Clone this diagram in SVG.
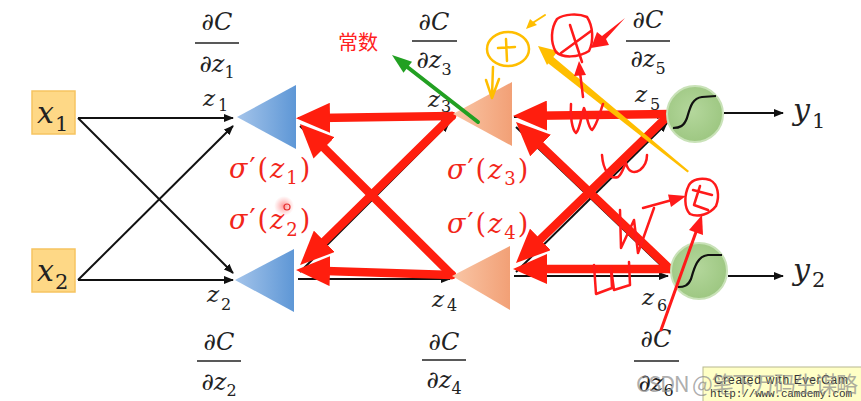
<svg xmlns="http://www.w3.org/2000/svg" width="861" height="401" viewBox="0 0 861 401">
<defs>
<style>
.m{font-family:"DejaVu Serif","Liberation Serif",serif;font-style:italic;fill:#222}
.big{font-size:30px}
.z{font-size:23px}
.fr{font-size:24px}
.s{font-style:normal;font-size:16px}
.sb{font-style:normal;font-size:21px}
.sig{font-family:"DejaVu Serif","Liberation Serif",serif;font-style:italic;font-size:27px;fill:#f2261a;letter-spacing:2px}
.up{font-style:normal}
.ss{font-style:normal;font-size:18px}
.fl{stroke:#222;stroke-width:1.6}
.blk{stroke:#111;stroke-width:2;fill:none;marker-end:url(#ab)}
.red{stroke:#ff1e0e;stroke-width:8.5;fill:none;stroke-linecap:round;marker-end:url(#rh)}
.hw{stroke:#ff1a1a;stroke-width:2.5;fill:none;stroke-linecap:round;stroke-linejoin:round}
.yl{stroke:#ffbe00;stroke-width:2.5;fill:none;stroke-linecap:round;stroke-linejoin:round}
.inbox{fill:#fed886;stroke:#f6c460;stroke-width:1.5}
.circ{fill:url(#gg);stroke:#c9e2b8;stroke-width:2}
.sigm{fill:none;stroke:#111;stroke-width:2.2}
</style>
<linearGradient id="gb" x1="0" y1="0" x2="1" y2="0">
<stop offset="0" stop-color="#a4c4ea"/><stop offset="1" stop-color="#5e97d6"/>
</linearGradient>
<linearGradient id="go" x1="0" y1="0" x2="1" y2="0">
<stop offset="0" stop-color="#f9c6a6"/><stop offset="1" stop-color="#f2a076"/>
</linearGradient>
<radialGradient id="gg" cx="0.45" cy="0.45" r="0.6">
<stop offset="0" stop-color="#b4d79c"/><stop offset="1" stop-color="#9cc680"/>
</radialGradient>
<radialGradient id="pk" cx="0.5" cy="0.5" r="0.5">
<stop offset="0" stop-color="#ff7070" stop-opacity="0.75"/><stop offset="1" stop-color="#ff9090" stop-opacity="0"/>
</radialGradient>
<marker id="ab" markerUnits="userSpaceOnUse" viewBox="0 0 10 8" markerWidth="10" markerHeight="8" refX="9" refY="4" orient="auto"><path d="M0,0 L10,4 L0,8 z" fill="#111"/></marker>
<marker id="rh" markerUnits="userSpaceOnUse" viewBox="0 0 34 30" markerWidth="34" markerHeight="30" refX="12" refY="15" orient="auto"><path d="M0,0 L34,15 L0,30 z" fill="#ff1e0e"/></marker>
</defs>
<rect width="861" height="401" fill="#fff"/>

<g id="connectors">
<path class="blk" d="M78,118 L233,118"/>
<path class="blk" d="M78,118 L233,273"/>
<path class="blk" d="M78,280 L233,280"/>
<path class="blk" d="M78,280 L233,126"/>
<path class="blk" d="M298,118 L450,117"/>
<path class="blk" d="M298,279 L450,279"/>
<path class="blk" d="M300,126 L449,272"/>
<path class="blk" d="M300,272 L449,123"/>
<path class="blk" d="M514,117 L666,115"/>
<path class="blk" d="M514,276 L668,276"/>
<path class="blk" d="M516,127 L668,272"/>
<path class="blk" d="M516,272 L667,123"/>
<path class="blk" d="M724,113 L783,113"/>
<path class="blk" d="M728,276 L783,276"/>
<path class="red" d="M452,116 L318,118"/>
<path class="red" d="M452,275 L318,270.7"/>
<path class="red" d="M452,116 L315.8,249.7"/>
<path class="red" d="M452,275 L315.6,139.5"/>
<path class="red" d="M670,114 L535,115.7"/>
<path class="red" d="M670,269 L535,269"/>
<path class="red" d="M670,114 L531.8,247.7"/>
<path class="red" d="M670,269 L531.9,137.2"/>
</g>

<g id="x1">
<rect class="inbox" x="32" y="91" width="43" height="43"/>
<text class="m big" x="37" y="123">x</text><text class="m sb" x="55" y="131">1</text>
</g>
<g id="x2">
<rect class="inbox" x="32" y="249" width="43" height="43"/>
<text class="m big" x="37" y="281">x</text><text class="m sb" x="55" y="289">2</text>
</g>

<g id="n1">
<polygon points="237,117 296,85 296,149" fill="url(#gb)"/>
<text class="m z" x="203" y="106">z</text><text class="m s" x="218" y="111">1</text>
<text class="m fr" x="217" y="30" text-anchor="middle">∂C</text>
<line class="fl" x1="195" y1="43" x2="239" y2="43"/>
<text class="m fr" x="217" y="72" text-anchor="middle">∂z<tspan class="s" dy="6">1</tspan></text>
</g>
<g id="n2">
<polygon points="235,280 294,249 294,312" fill="url(#gb)"/>
<text class="m z" x="207" y="302">z</text><text class="m s" x="221" y="310">2</text>
<text class="m fr" x="219" y="350" text-anchor="middle">∂C</text>
<line class="fl" x1="197" y1="361" x2="241" y2="361"/>
<text class="m fr" x="219" y="390" text-anchor="middle">∂z<tspan class="s" dy="6">2</tspan></text>
</g>
<g id="n3">
<polygon points="453,114 512,82 512,146" fill="url(#go)"/>
<text class="m z" x="428" y="107">z</text><text class="m s" x="441" y="112">3</text>
<text class="m fr" x="434" y="30" text-anchor="middle">∂C</text>
<line class="fl" x1="412" y1="41" x2="457" y2="41"/>
<text class="m fr" x="434" y="68" text-anchor="middle">∂z<tspan class="s" dy="7">3</tspan></text>
</g>
<g id="n4">
<polygon points="452,276 510,246 510,310" fill="url(#go)"/>
<text class="m z" x="432" y="307">z</text><text class="m s" x="447" y="311">4</text>
<text class="m fr" x="444" y="350" text-anchor="middle">∂C</text>
<line class="fl" x1="422" y1="360" x2="466" y2="360"/>
<text class="m fr" x="444" y="388" text-anchor="middle">∂z<tspan class="s" dy="6">4</tspan></text>
</g>
<g id="n5">
<circle class="circ" cx="695" cy="114" r="28"/>
<path class="sigm" d="M673,128 C680,128 684,126 687,118 C690,108 692,98 702,97 L716,96"/>
<text class="m z" x="635" y="102">z</text><text class="m s" x="650" y="110">5</text>
<text class="m fr" x="648" y="28" text-anchor="middle">∂C</text>
<line class="fl" x1="626" y1="41" x2="670" y2="41"/>
<text class="m fr" x="648" y="67" text-anchor="middle">∂z<tspan class="s" dy="7">5</tspan></text>
</g>
<g id="n6">
<circle class="circ" cx="699" cy="271" r="28"/>
<path class="sigm" d="M678,287 C684,287 688,286 691,279 C694,269 697,256 708,255 L722,255"/>
<text class="m z" x="642" y="305">z</text><text class="m s" x="657" y="311">6</text>
<text class="m fr" x="656" y="347" text-anchor="middle">∂C</text>
<line class="fl" x1="634" y1="361" x2="679" y2="361"/>
<text class="m fr" x="656" y="391" text-anchor="middle">∂z<tspan class="s" dy="5">6</tspan></text>
</g>
<g id="y1">
<text class="m big" x="793" y="120">y</text><text class="m sb" x="812" y="128">1</text>
</g>
<g id="y2">
<text class="m big" x="793" y="280">y</text><text class="m sb" x="812" y="287">2</text>
</g>

<g id="sigma-labels">
<text class="sig" x="229" y="178">σ<tspan class="up">′(</tspan>z<tspan class="ss" dy="6">1</tspan><tspan class="up" dy="-6">)</tspan></text>
<text class="sig" x="229" y="229">σ<tspan class="up">′(</tspan>z<tspan class="ss" dy="7">2</tspan><tspan class="up" dy="-7">)</tspan></text>
<text class="sig" x="447" y="179">σ<tspan class="up">′(</tspan>z<tspan class="ss" dy="6">3</tspan><tspan class="up" dy="-6">)</tspan></text>
<text class="sig" x="447" y="233">σ<tspan class="up">′(</tspan>z<tspan class="ss" dy="6">4</tspan><tspan class="up" dy="-6">)</tspan></text>
<circle cx="284" cy="206" r="10" fill="url(#pk)"/>
<circle cx="287" cy="207" r="3" fill="none" stroke="#e53030" stroke-width="1.2"/>
</g>

<g id="annotations">
<text x="338" y="50" font-family="'Noto Sans CJK SC',sans-serif" font-size="20" fill="#ff2020">常数</text>
<path d="M478,122 L406,66" stroke="#22a022" stroke-width="4" stroke-linecap="round"/>
<polygon points="392,55 412,61.8 403.5,72.8" fill="#22a022"/>
<ellipse class="yl" cx="508" cy="49" rx="21" ry="17"/>
<path class="yl" d="M498,48 L515,47 M506,39 L507,61"/>
<path class="yl" d="M493,67 L492,96 M486,80 L492,98 L499,79"/>
<path d="M545,15 L531,24" stroke="#ffbe00" stroke-width="2" stroke-linecap="round"/>
<polygon points="526,29 530,19 537,25" fill="#ffbe00"/>
<polygon points="551.5,55.5 689,171 687.5,172.5 546.5,62" fill="#ffbe00"/>
<polygon points="538,46 558,51 547,65" fill="#ffbe00"/>
<path class="hw" d="M557,19 C551,28 550,42 556,52 C562,58 578,58 589,51 C594,41 593,26 587,17 C578,13 564,14 557,19 Z"/>
<path class="hw" d="M570,25 L582,62 M591,31 L561,53"/>
<polygon points="625,18 606,39 609,45 591,48 597,32 602,36" fill="#ff1a1a"/>
<path d="M583,97 L580,72" stroke="#ff1a1a" stroke-width="2.5" stroke-linecap="round"/>
<polygon points="579,61 574,76 586,75" fill="#ff1a1a"/>
<path class="hw" d="M571,104 C570,115 572,130 576,133 C580,130 582,112 584,108 C587,115 588,128 592,130 C597,125 600,112 603,104"/>
<path class="hw" d="M602,155 C603,170 610,180 618,177 C623,173 624,165 626,163 C628,172 634,174 640,170 C645,166 647,160 647,155"/>
<path class="hw" d="M620,210 L621,248 L634,220 L638,253 L654,208"/>
<path class="hw" d="M594,265 L596,294 L612,288 L611,268 L614,290 L630,285 L629,262"/>
<path class="hw" d="M689,185 C684,195 684,208 690,214 C698,218 710,214 716,206 C720,196 718,184 710,180 C700,177 692,180 689,185 Z"/>
<path class="hw" d="M693,190 L712,195 M700,186 L694,205 L708,210"/>
<path d="M643,208 L672,200" stroke="#ff1a1a" stroke-width="2.5" stroke-linecap="round"/>
<polygon points="686,196 668,194.5 671,207" fill="#ff1a1a"/>
<path d="M661,330 L696,232" stroke="#ff1a1a" stroke-width="3" stroke-linecap="round"/>
<polygon points="702,215 703,235 689,230" fill="#ff1a1a"/>
</g>

<g id="watermark">
<rect x="703" y="367" width="160" height="35" fill="#ffffc6" stroke="#b8b890" stroke-width="1"/>
<text x="714" y="384" font-family="'Liberation Sans',sans-serif" font-size="12" fill="#333" textLength="134">Created with EverCam</text>
<text x="710" y="397" font-family="'Liberation Mono',monospace" font-size="11" fill="#333" textLength="142">http://www.camdemy.com</text>
<text x="636" y="392" font-family="'Noto Sans CJK SC',sans-serif" font-size="22" fill="#8a8a8a" fill-opacity="0.7" textLength="222">CSDN @笔下万码生谋略</text>
</g>
</svg>
